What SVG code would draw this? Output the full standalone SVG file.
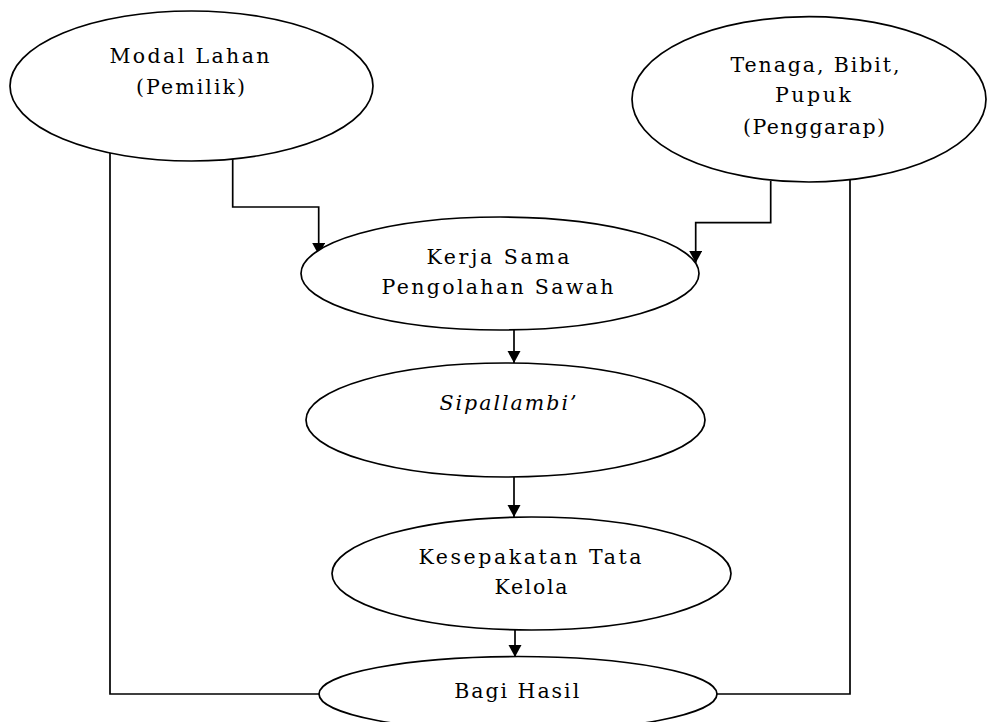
<svg xmlns="http://www.w3.org/2000/svg" width="988" height="722" viewBox="0 0 988 722">
  <style>
    .node ellipse { fill: #ffffff; stroke: #000000; stroke-width: 1.7; }
    .node text { font-family: "DejaVu Serif", "Liberation Serif", serif; font-size: 20.5px; fill: #000000; text-anchor: middle; }
    .node text.it { font-style: italic; }
    .edge { fill: none; stroke: #000000; stroke-width: 1.7; }
    .arrow { marker-end: url(#head); }
  </style>
  <defs>
    <marker id="head" markerUnits="userSpaceOnUse" markerWidth="13" markerHeight="14" refX="12" refY="6.5" orient="auto">
      <path d="M0,0 L12,6.5 L0,13 z" fill="#000000"/>
    </marker>
  </defs>

  <g id="connectors">
    <!-- owner capital to cooperation -->
    <polyline class="edge arrow" points="232.7,158 232.7,207 318.7,207 318.7,255"/>
    <!-- tenant inputs to cooperation -->
    <polyline class="edge arrow" points="770.7,181 770.7,222.7 695.7,222.7 695.7,263"/>
    <!-- main vertical chain -->
    <line class="edge arrow" x1="514" y1="330" x2="514" y2="363"/>
    <line class="edge arrow" x1="514" y1="477" x2="514" y2="517"/>
    <line class="edge arrow" x1="515" y1="630" x2="515" y2="657"/>
    <!-- side links into profit sharing -->
    <polyline class="edge" points="110,153 110,694 319,694"/>
    <polyline class="edge" points="850,180 850,694 717,694"/>
  </g>

  <g id="modal-lahan" class="node">
    <ellipse cx="191.5" cy="86" rx="181.5" ry="75"/>
    <text x="189.5" y="63.3" textLength="160" lengthAdjust="spacing">Modal Lahan</text>
    <text x="190.5" y="94.3" textLength="109" lengthAdjust="spacing">(Pemilik)</text>
  </g>

  <g id="tenaga-bibit-pupuk" class="node">
    <ellipse cx="809" cy="99.3" rx="177" ry="82.7"/>
    <text x="815" y="72.3" textLength="169" lengthAdjust="spacing">Tenaga, Bibit,</text>
    <text x="813" y="102" textLength="76" lengthAdjust="spacing">Pupuk</text>
    <text x="814" y="134" textLength="142" lengthAdjust="spacing">(Penggarap)</text>
  </g>

  <g id="kerja-sama" class="node">
    <ellipse cx="500" cy="273.5" rx="199" ry="56.5"/>
    <text x="498" y="264.3" textLength="143" lengthAdjust="spacing">Kerja Sama</text>
    <text x="497.5" y="294" textLength="232" lengthAdjust="spacing">Pengolahan Sawah</text>
  </g>

  <g id="sipallambi" class="node">
    <ellipse cx="505.5" cy="420" rx="199.5" ry="57"/>
    <text class="it" x="508" y="410" textLength="137" lengthAdjust="spacing">Sipallambi’</text>
  </g>

  <g id="kesepakatan" class="node">
    <ellipse cx="531.5" cy="573.5" rx="199.5" ry="56.5"/>
    <text x="530" y="564.3" textLength="223" lengthAdjust="spacing">Kesepakatan Tata</text>
    <text x="531" y="594" textLength="73" lengthAdjust="spacing">Kelola</text>
  </g>

  <g id="bagi-hasil" class="node">
    <ellipse cx="518" cy="694" rx="199" ry="37.5"/>
    <text x="516.7" y="698.3" textLength="125" lengthAdjust="spacing">Bagi Hasil</text>
  </g>
</svg>
